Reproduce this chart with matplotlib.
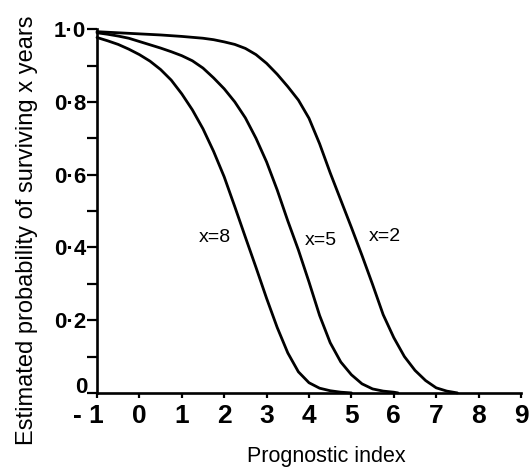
import matplotlib
matplotlib.use("Agg")
import matplotlib.pyplot as plt
import matplotlib.transforms as mtransforms

# Curve x=8 (leftmost)
x8_pi = [-1.0, -0.75, -0.5, -0.25, 0.0, 0.25, 0.5, 0.75, 1.0, 1.25, 1.5, 1.75, 2.0, 2.25,
         2.5, 2.75, 3.0, 3.25, 3.5, 3.75, 4.0, 4.25, 4.5, 4.75, 5.0]
x8_s = [0.977, 0.968, 0.958, 0.945, 0.930, 0.912, 0.889, 0.860, 0.822, 0.778, 0.726, 0.664,
        0.594, 0.512, 0.428, 0.345, 0.260, 0.180, 0.110, 0.058, 0.028, 0.013, 0.006, 0.002, 0.0]

# Curve x=5
x5_pi = [-1.0, -0.75, -0.5, -0.25, 0.0, 0.25, 0.5, 0.75, 1.0, 1.25, 1.5, 1.75, 2.0, 2.25,
         2.5, 2.75, 3.0, 3.25, 3.5, 3.75, 4.0, 4.25, 4.5, 4.75, 5.0, 5.25, 5.5, 5.75, 6.0, 6.1]
x5_s = [0.990, 0.986, 0.981, 0.975, 0.966, 0.957, 0.948, 0.938, 0.927, 0.913, 0.893, 0.866,
        0.836, 0.800, 0.756, 0.700, 0.635, 0.558, 0.473, 0.393, 0.305, 0.213, 0.138, 0.085,
        0.050, 0.025, 0.011, 0.005, 0.002, 0.0]

# Curve x=2
x2_pi = [-1.0, -0.5, 0.0, 0.5, 1.0, 1.5, 1.75, 2.0, 2.25, 2.5, 2.75, 3.0, 3.25, 3.5, 3.75,
         4.0, 4.25, 4.5, 4.75, 5.0, 5.25, 5.5, 5.75, 6.0, 6.25, 6.5, 6.75, 7.0, 7.25, 7.5]
x2_s = [0.993, 0.990, 0.987, 0.984, 0.980, 0.975, 0.971, 0.965, 0.958, 0.947, 0.930, 0.906,
        0.876, 0.842, 0.805, 0.755, 0.685, 0.605, 0.530, 0.455, 0.378, 0.298, 0.215, 0.152,
        0.100, 0.062, 0.034, 0.014, 0.005, 0.0]

curve_labels = ["x=8", "x=5", "x=2"]
label_pos = [(1.78, 0.426), (4.28, 0.42), (5.79, 0.43)]

xticks = [-1, 0, 1, 2, 3, 4, 5, 6, 7, 8, 9]
xticklabels = ["- 1", "0", "1", "2", "3", "4", "5", "6", "7", "8", "9"]
yticks = [0.0, 0.1, 0.2, 0.3, 0.4, 0.5, 0.6, 0.7, 0.8, 0.9, 1.0]
yticklabels = ["0", "", "0\u00b72", "", "0\u00b74", "", "0\u00b76", "", "0\u00b78", "", "1\u00b70"]

plt.rcParams['font.family'] = ['Liberation Sans', 'DejaVu Sans']

fig = plt.figure(figsize=(5.3, 4.7), dpi=100)
ax = fig.add_axes([0.183, 0.164, 0.800, 0.774])

for xs, ys in [(x8_pi, x8_s), (x5_pi, x5_s), (x2_pi, x2_s)]:
    ax.plot(xs, ys, color='black', lw=2.0, clip_on=False,
            solid_joinstyle='round', solid_capstyle='round')

for lab, (lx, ly) in zip(curve_labels, label_pos):
    ax.text(lx, ly, lab, fontsize=14, ha='center', va='center')

ax.set_xlim(-1, 9)
ax.set_ylim(0, 1.0)
for s in ['top', 'right']:
    ax.spines[s].set_visible(False)
for s in ['left', 'bottom']:
    ax.spines[s].set_linewidth(1.9)

ax.set_xticks(xticks)
ax.set_xticklabels(xticklabels, fontsize=19, fontweight='bold')
ax.set_yticks(yticks)
ax.set_yticklabels(yticklabels, fontsize=16, fontweight='bold')
ax.tick_params(axis='x', direction='out', length=3.8, width=1.6, pad=4)
ax.tick_params(axis='y', direction='out', length=7, width=1.6, pad=1.0)
ylab0 = ax.get_yticklabels()[0]
ylab0.set_va('baseline')
ylab0.set_transform(ylab0.get_transform() +
                    mtransforms.ScaledTranslation(2/100, 0, fig.dpi_scale_trans))
lab0 = ax.get_xticklabels()[0]
lab0.set_ha('right')
lab0.set_transform(lab0.get_transform() + mtransforms.ScaledTranslation(7/100, 0, fig.dpi_scale_trans))

fig.text(0.051, 0.511, "Estimated probability of surviving x years", rotation=90,
         fontsize=17, ha='center', va='center')
fig.text(0.615, 0.028, "Prognostic index", fontsize=15.5, ha='center', va='center')

fig.savefig("out.png", dpi=100)
